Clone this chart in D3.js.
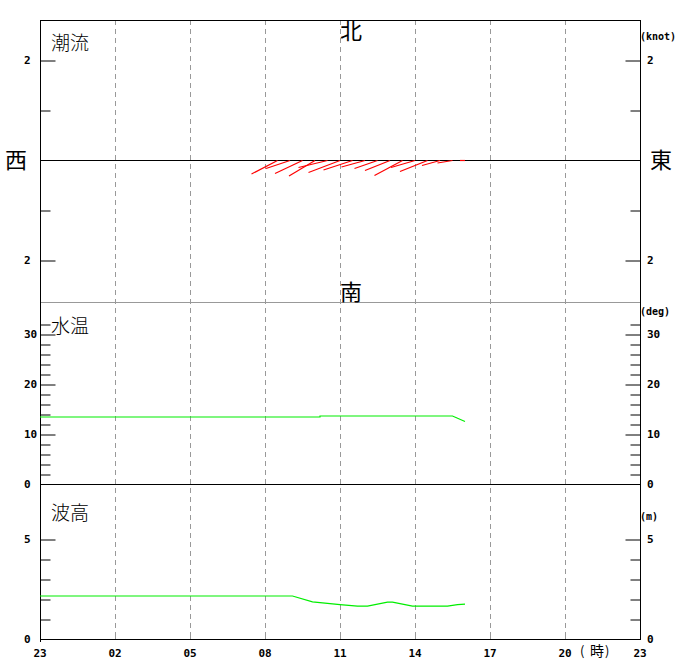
<!DOCTYPE html>
<html><head><meta charset="utf-8">
<script src="https://cdn.jsdelivr.net/npm/d3@7"></script>
<style>
html,body{margin:0;padding:0;background:#fff;}
svg text{font-family:"DejaVu Sans Mono",monospace;}
.cjk{font-family:"Noto Sans CJK JP","Noto Sans CJK SC",sans-serif;}
</style></head>
<body>
<svg id="c" width="680" height="660"></svg>
<script>
// ---- data ----
const xHours = [0,3,6,9,12,15,18,21,24];
const xTickLabels = ["23","02","05","08","11","14","17","20","23"];

// current vectors: hours since 23:00, east (u) and north (v) components in knots
const curHours = [9.5,10,10.5,11,11.5,12,12.5,13,13.5,14,14.5,15,15.5,16,16.5,17];
const curU = [-0.52,-0.48,-0.55,-0.52,-0.58,-0.63,-0.58,-0.47,-0.46,-0.50,-0.56,-0.48,-0.55,-0.36,-0.30,-0.10];
const curV = [-0.27,-0.16,-0.26,-0.31,-0.14,-0.24,-0.19,-0.13,-0.16,-0.20,-0.30,-0.14,-0.22,-0.10,-0.05,0.0];

// water temperature (deg)
const tempHours = [0,11.2,11.2,16.5,17];
const tempVals  = [13.4,13.4,13.6,13.6,12.5];

// wave height (m)
const waveHours = [0,10.1,10.9,11.4,12.0,12.7,13.1,13.9,14.1,14.9,16.3,16.7,17];
const waveVals  = [2.15,2.15,1.86,1.79,1.72,1.64,1.64,1.84,1.84,1.64,1.64,1.72,1.74];

const curTicksMajor = [-2,2], curTicksMinor = [-1,1], curLabels = [-2,2];
const tempTicksMajor = [10,20,30], tempTicksMinor = [2,4,6,8,12,14,16,18,22,24,26,28,32], tempLabels=[0,10,20,30];
const waveTicksMajor = [5], waveTicksMinor = [1,2,3,4], waveLabels=[0,5];

// ---- scales ----
const L=40, R=640, T=20, B=639;
const x = d3.scaleLinear().domain([0,24]).range([L,R]);
const yC = d3.scaleLinear().domain([-1,1]).range([210,110]);
const yT = d3.scaleLinear().domain([0,10]).range([484,434]);
const yW = d3.scaleLinear().domain([0,5]).range([639,539]);
const knotPx = yC(0)-yC(1);

const svg = d3.select("#c");
const g = svg.append("g");

// vertical dashed grid
g.selectAll("line.grid").data(xHours.slice(1,-1)).enter().append("line")
  .attr("x1",d=>x(d)+0.5).attr("x2",d=>x(d)+0.5).attr("y1",T).attr("y2",B)
  .attr("stroke","#999").attr("stroke-dasharray","5,4").attr("stroke-width",1);

// panel separators
g.append("line").attr("x1",L).attr("x2",R).attr("y1",yC(-2.84)+0.5).attr("y2",yC(-2.84)+0.5).attr("stroke","#999");
g.append("line").attr("x1",L).attr("x2",R).attr("y1",yC(0)+0.5).attr("y2",yC(0)+0.5).attr("stroke","#000");
g.append("line").attr("x1",L).attr("x2",R).attr("y1",yT(0)+0.5).attr("y2",yT(0)+0.5).attr("stroke","#000");
g.append("line").attr("x1",L).attr("x2",R).attr("y1",yW(0)+0.5).attr("y2",yW(0)+0.5).attr("stroke","#000");
g.append("line").attr("x1",L).attr("x2",R).attr("y1",T+0.5).attr("y2",T+0.5).attr("stroke","#000");
g.append("line").attr("x1",L+0.5).attr("x2",L+0.5).attr("y1",T).attr("y2",B+3).attr("stroke","#000");
g.append("line").attr("x1",R+0.5).attr("x2",R+0.5).attr("y1",T).attr("y2",B+1).attr("stroke","#000");

// ticks
function ticks(scale, major, minor){
  const la = d3.axisRight(scale).tickValues(major).tickSize(15).tickFormat("");
  const li = d3.axisRight(scale).tickValues(minor).tickSize(10).tickFormat("");
  const ra = d3.axisLeft(scale).tickValues(major).tickSize(15).tickFormat("");
  const ri = d3.axisLeft(scale).tickValues(minor).tickSize(10).tickFormat("");
  [[la,L],[li,L],[ra,R],[ri,R]].forEach(([ax,px])=>{
    const a = g.append("g").attr("transform",`translate(${px+0.5},0.5)`).call(ax);
    a.select(".domain").remove();
    a.selectAll("line").attr("stroke","#000");
  });
}
ticks(yC, curTicksMajor, curTicksMinor);
ticks(yT, tempTicksMajor, tempTicksMinor);
ticks(yW, waveTicksMajor, waveTicksMinor);

// tick labels
function labels(scale, vals, fmt){
  vals.forEach(v=>{
    [24,647].forEach(px=>{
      g.append("text").attr("x",px).attr("y",scale(v)+4).attr("font-size",11).attr("font-weight","bold")
        .text(fmt(v));
    });
  });
}
labels(yC, curLabels, v=>String(Math.abs(v)));
labels(yT, tempLabels, v=>String(v));
labels(yW, waveLabels, v=>String(v));

// units
[["(knot)",40],["(deg)",315],["(m)",520]].forEach(([t,yy])=>{
  g.append("text").attr("x",640).attr("y",yy).attr("font-size",10).attr("font-weight","bold").text(t);
});

// x labels
xHours.forEach((h,i)=>{
  g.append("text").attr("x",x(h)).attr("y",657).attr("text-anchor","middle")
    .attr("font-size",11).attr("font-weight","bold").text(xTickLabels[i]);
});
g.append("text").attr("class","cjk").attr("x",580).attr("y",656).attr("font-size",13).text("(");
g.append("text").attr("class","cjk").attr("x",590).attr("y",656).attr("font-size",14).text("時");
g.append("text").attr("class","cjk").attr("x",605).attr("y",656).attr("font-size",13).text(")");

// small gray tick marks at bottom
g.selectAll("line.bt").data(xHours.slice(1,-1)).enter().append("line")
  .attr("x1",d=>x(d)+0.5).attr("x2",d=>x(d)+0.5).attr("y1",B-4).attr("y2",B)
  .attr("stroke","#999");

// panel titles
[["潮流",50],["水温",333],["波高",520]].forEach(([t,yy])=>{
  g.append("text").attr("class","cjk").attr("x",51).attr("y",yy).attr("font-size",19).attr("font-weight",300).text(t);
});
// compass
g.append("text").attr("class","cjk").attr("x",351).attr("y",39).attr("text-anchor","middle").attr("font-size",22).text("北");
g.append("text").attr("class","cjk").attr("x",351).attr("y",300).attr("text-anchor","middle").attr("font-size",22).text("南");
g.append("text").attr("class","cjk").attr("x",16).attr("y",168).attr("text-anchor","middle").attr("font-size",22).text("西");
g.append("text").attr("class","cjk").attr("x",661).attr("y",168).attr("text-anchor","middle").attr("font-size",22).text("東");

// current vectors
g.selectAll("line.cur").data(curHours).enter().append("line")
  .attr("x1",d=>x(d)).attr("y1",yC(0)+0.5)
  .attr("x2",(d,i)=>x(d)+curU[i]*knotPx).attr("y2",(d,i)=>yC(curV[i])+0.5)
  .attr("stroke","#ff0000").attr("stroke-width",1.2);

// temperature line
const tempData = tempHours.map((h,i)=>[h,tempVals[i]]);
g.append("path").datum(tempData)
  .attr("d",d3.line().x(d=>x(d[0])).y(d=>yT(d[1])))
  .attr("fill","none").attr("stroke","#00ee00").attr("stroke-width",1.2);

// wave line
const waveData = waveHours.map((h,i)=>[h,waveVals[i]]);
g.append("path").datum(waveData)
  .attr("d",d3.line().x(d=>x(d[0])).y(d=>yW(d[1])))
  .attr("fill","none").attr("stroke","#00ee00").attr("stroke-width",1.2);
</script>
</body></html>
